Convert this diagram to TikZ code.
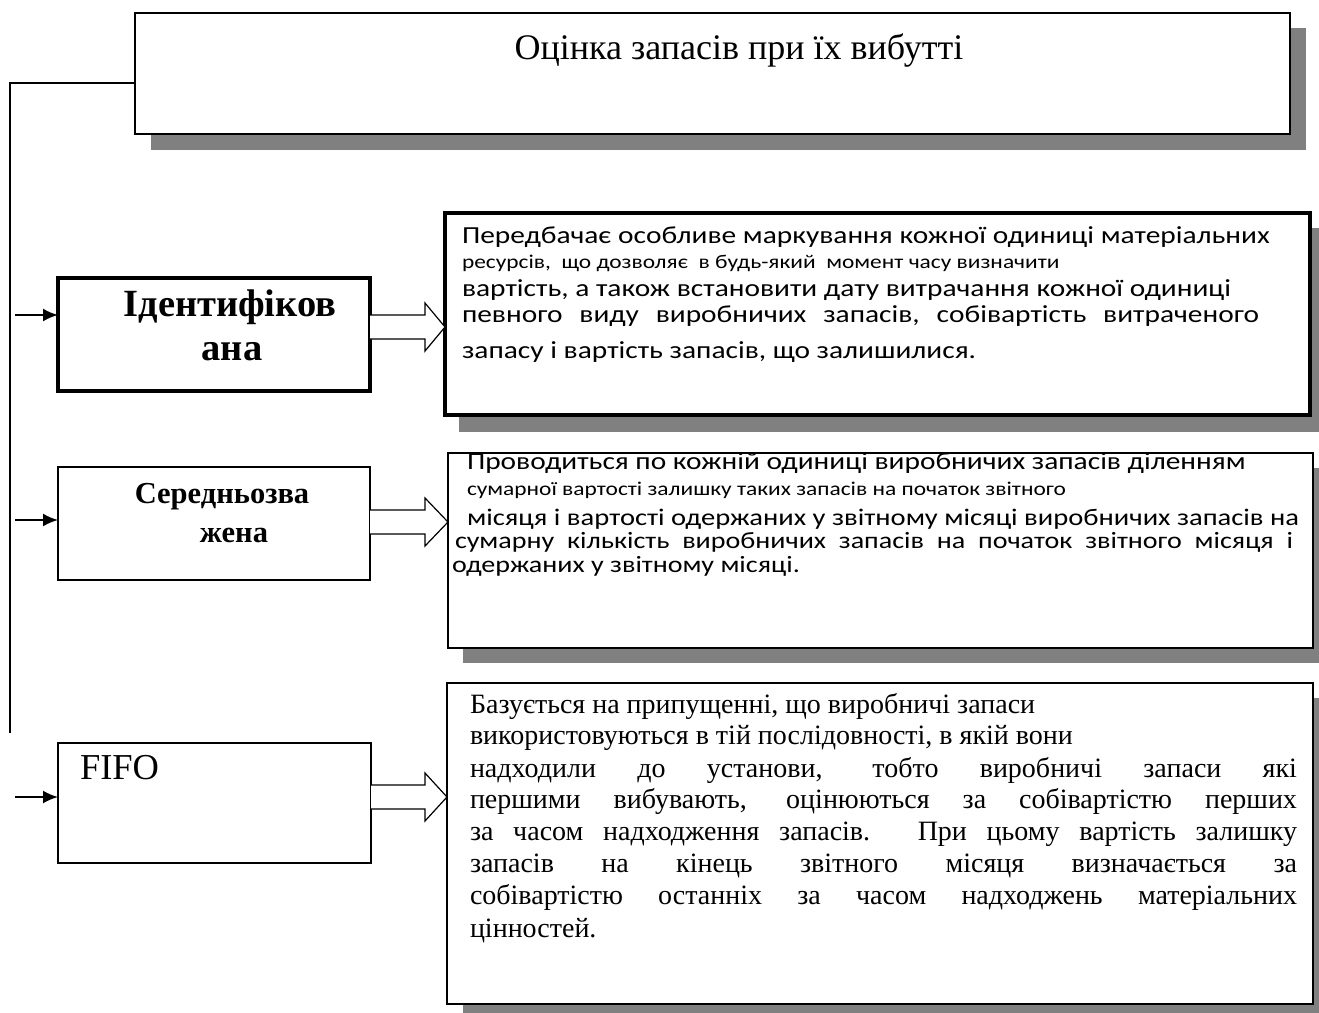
\documentclass[tikz,border=0pt]{standalone}
\usepackage{fontspec}
\setmainfont{Liberation Serif}
\newfontfamily\calib[FakeStretch=1.2]{Carlito}
\usetikzlibrary{arrows.meta,calc}
\begin{document}
\begin{tikzpicture}[x=1pt,y=-1pt,
  thinbox/.style={draw=black,line width=1.6pt,fill=white,inner sep=0pt,outer sep=0pt,anchor=north west},
  thickbox/.style={draw=black,line width=3.6pt,fill=white,inner sep=0pt,outer sep=0pt,anchor=north west},
  shadow/.style={fill=black!50,draw=none},
  txt/.style={anchor=mid west,inner sep=0pt,outer sep=0pt},
  conn/.style={line width=1.6pt},
  inarrow/.style={line width=2pt,-{Latex[length=15pt,width=13pt]}},
  blockarrow/.style={draw=black,line width=1.2pt,fill=white,line join=miter},
  cA/.style={font=\calib\fontsize{24.5}{28}\selectfont},
  cB/.style={font=\calib\fontsize{19.5}{23}\selectfont},
  tR/.style={font=\fontsize{28}{32}\selectfont}]
\useasboundingbox (0,0) rectangle (1319,1012);
% shadows
\fill[shadow] (151,28) rectangle (1306,150);
\fill[shadow] (459,228) rectangle (1325,432);
\fill[shadow] (463,468) rectangle (1328,663);
\fill[shadow] (463,698) rectangle (1328,1020);
% title box
\node[thinbox,minimum width=1155pt,minimum height=121pt] (title) at (135,13) {};
\node[anchor=center,inner sep=0pt,font=\fontsize{36}{40}\selectfont] (titletxt) at (739,50) {Оцінка запасів при їх вибутті};
% method boxes
\node[thickbox,minimum width=312pt,minimum height=113pt] (ident) at (58,278) {};
\node[inner sep=0pt,font=\bfseries\fontsize{38.5}{42}\selectfont] (identtxt1) at (230,307) {Ідентифіков};
\node[inner sep=0pt,font=\bfseries\fontsize{38.5}{42}\selectfont] (identtxt2) at (232,352) {ана};
\node[thinbox,minimum width=312pt,minimum height=113pt] (avg) at (58,467) {};
\node[inner sep=0pt,font=\bfseries\fontsize{30.5}{34}\selectfont] (avgtxt1) at (222,497) {Середньозва};
\node[inner sep=0pt,font=\bfseries\fontsize{30.5}{34}\selectfont] (avgtxt2) at (234,535) {жена};
\node[thinbox,minimum width=313pt,minimum height=120pt] (fifo) at (58,743) {};
\node[txt,font=\fontsize{36.5}{40}\selectfont] (fifotxt) at (80,777) {FIFO};
% description boxes
\node[thickbox,minimum width=865pt,minimum height=202pt] (d1) at (445,213) {};
\node[thinbox,minimum width=865pt,minimum height=195pt] (d2) at (448,453) {};
\node[thinbox,minimum width=866pt,minimum height=321pt] (d3) at (447,683) {};
% D1 text
\node[txt,cA] (d1l1) at (462,241) {Передбачає особливе маркування кожної одиниці матеріальних};
\node[txt,cB] (d1l2) at (462,266) {ресурсів,\ \ що дозволяє\ \ в будь-який\ \ момент часу визначити};
\node[txt,cA] (d1l3) at (462,294) {вартість, а також встановити дату витрачання кожної одиниці};
\node[txt,cA] (d1l4) at (462,320) {\makebox[797pt][s]{певного\ \ виду\ \ виробничих\ \ запасів,\ \ собівартість\ \ витраченого}};
\node[txt,cA] (d1l5) at (462,356) {запасу і вартість запасів, що залишилися.};
% D2 text
\node[txt,cA] (d2l1) at (467,467) {Проводиться по кожній одиниці виробничих запасів діленням};
\node[txt,cB] (d2l2) at (467,493) {сумарної вартості залишку таких запасів на початок звітного};
\node[txt,font=\calib\fontsize{23.8}{28}\selectfont] (d2l3) at (467,523) {місяця і вартості одержаних у звітному місяці виробничих запасів на};
\node[txt,font=\calib\fontsize{23.4}{28}\selectfont] (d2l4) at (455,546) {\makebox[838pt][s]{сумарну кількість виробничих запасів на початок звітного місяця і}};
\node[txt,font=\calib\fontsize{23.4}{28}\selectfont] (d2l5) at (452,570) {одержаних у звітному місяці.};
% D3 text
\node[txt,tR] (d3l1) at (470,711) {Базується на припущенні, що виробничі запаси};
\node[txt,tR] (d3l2) at (470,742) {використовуються в тій послідовності, в якій вони};
\node[txt,tR] (d3l3) at (470,775) {\makebox[827pt][s]{надходили до установи, тобто виробничі запаси які}};
\node[txt,tR] (d3l4) at (470,806) {\makebox[827pt][s]{першими вибувають, оцінюються за собівартістю перших}};
\node[txt,tR] (d3l5) at (470,838) {\makebox[827pt][s]{за часом надходження запасів. При цьому вартість залишку}};
\node[txt,tR] (d3l6) at (470,870) {\makebox[827pt][s]{запасів на кінець звітного місяця визначається за}};
\node[txt,tR] (d3l7) at (470,902) {\makebox[827pt][s]{собівартістю останніх за часом надходжень матеріальних}};
\node[txt,tR] (d3l8) at (470,935) {цінностей.};
% connector from title
\coordinate (ctop) at (10,83);
\coordinate (cbot) at (10,733);
\draw[conn] (title.west |- ctop) -- (ctop) -- (cbot);
% input arrows
\coordinate (a1) at (15,315);
\coordinate (a2) at (15,520);
\coordinate (a3) at (15,797);
\draw[inarrow] (a1) -- (ident.west |- a1);
\draw[inarrow] (a2) -- (avg.west |- a2);
\draw[inarrow] (a3) -- (fifo.west |- a3);
% block arrows
\foreach \b/\d/\yy in {ident/d1/327, avg/d2/522, fifo/d3/797}{
  \draw[blockarrow] (\b.east |- 0,\yy-12) -- (425,\yy-12) -- (425,\yy-24) -- (\d.west |- 0,\yy) -- (425,\yy+24) -- (425,\yy+12) -- (\b.east |- 0,\yy+12);
}
\end{tikzpicture}
\end{document}
